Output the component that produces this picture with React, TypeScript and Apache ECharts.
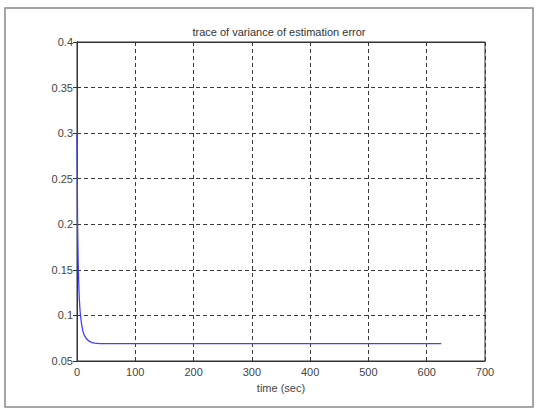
import React, { useEffect, useRef } from "react";
import * as echarts from "echarts";

const titleText = "trace of variance of estimation error";
const xLabel = "time (sec)";
const timeSec = [0, 1, 2, 3, 4, 5, 6, 8, 10, 12, 15, 20, 25, 30, 40, 60, 100, 200, 300, 400, 500, 600, 625];
const traceVar = [0.3, 0.2, 0.16, 0.135, 0.118, 0.107, 0.1, 0.09, 0.083, 0.079, 0.0755, 0.072, 0.0705, 0.0697, 0.0691, 0.069, 0.069, 0.069, 0.069, 0.069, 0.069, 0.069, 0.069];

export default function App() {
  const ref = useRef<HTMLDivElement>(null);
  useEffect(() => {
    if (!ref.current) return;
    const chart = echarts.init(ref.current, null, { renderer: "svg" });
    const font = "'Liberation Sans', Arial, sans-serif";
    const split = { show: true, lineStyle: { color: "#3a3a3a", type: [4, 3] as any, width: 1 } };
    const tick = { show: true, inside: true, length: 4, lineStyle: { color: "#333" } };
    const line = { show: true, lineStyle: { color: "#333", width: 1 } };
    const fmt = (v: number) => String(+v.toFixed(2));
    chart.setOption({
      animation: false,
      backgroundColor: "#fff",
      title: {
        text: titleText,
        left: 274,
        top: 21,
        textAlign: "center",
        textStyle: { fontFamily: font, fontSize: 11, fontWeight: "normal", color: "#333" },
      },
      graphic: [
        {
          type: "rect",
          shape: { x: 5, y: 8, width: 528, height: 399 },
          style: { fill: "none", stroke: "#888", lineWidth: 1.5 },
          silent: true,
        },
        {
          type: "text",
          x: 281,
          y: 388,
          style: { text: xLabel, fontFamily: font, fontSize: 11, fill: "#444", align: "center", verticalAlign: "middle" },
        },
      ],
      grid: { left: 77, top: 42, right: 52, bottom: 48, show: true, borderColor: "#333", borderWidth: 1 },
      xAxis: [
        {
          type: "value", min: 0, max: 700, interval: 100, position: "bottom",
          axisLine: line, axisTick: tick, splitLine: split,
          axisLabel: { fontFamily: font, fontSize: 11, color: "#444", margin: 5 },
        },
        {
          type: "value", min: 0, max: 700, interval: 100, position: "top",
          axisLine: line, axisTick: tick, splitLine: { show: false }, axisLabel: { show: false },
        },
      ],
      yAxis: [
        {
          type: "value", min: 0.05, max: 0.4, interval: 0.05, position: "left",
          axisLine: line, axisTick: tick, splitLine: split,
          axisLabel: { fontFamily: font, fontSize: 11, color: "#444", margin: 4, formatter: fmt },
        },
        {
          type: "value", min: 0.05, max: 0.4, interval: 0.05, position: "right",
          axisLine: line, axisTick: tick, splitLine: { show: false }, axisLabel: { show: false },
        },
      ],
      series: [
        {
          type: "line",
          data: timeSec.map((t, i) => [t, traceVar[i]]),
          showSymbol: false,
          smooth: false,
          lineStyle: { color: "#4040ff", width: 1.3 },
          xAxisIndex: 0,
          yAxisIndex: 0,
        },
      ],
    });
    return () => chart.dispose();
  }, []);
  return <div ref={ref} style={{ position: "fixed", left: 0, top: 0, width: 537, height: 409 }} />;
}
